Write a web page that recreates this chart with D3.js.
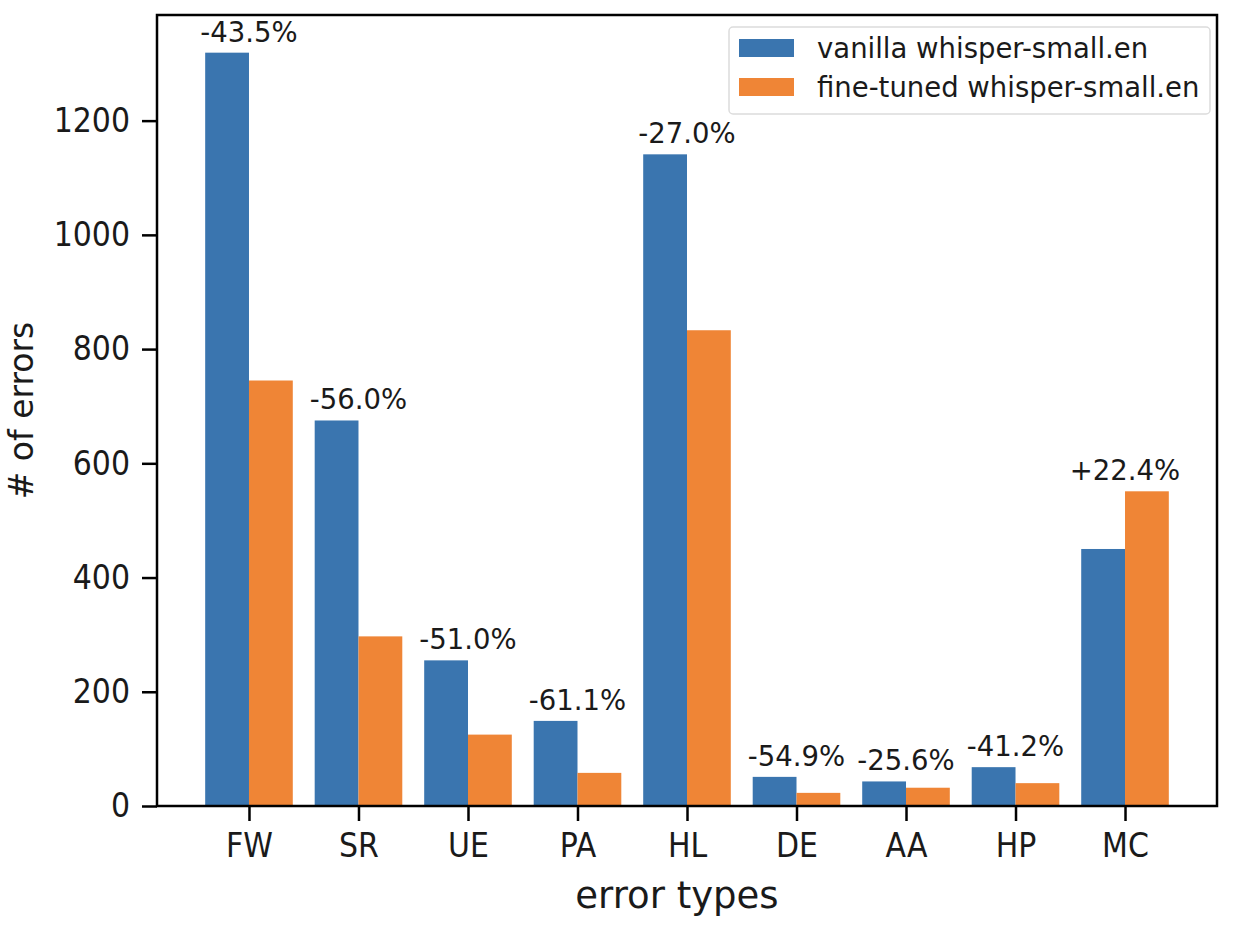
<!doctype html>
<html lang="en">
  <head>
    <meta charset="utf-8">
    <title>error types</title>
    <style>
      body { margin: 0; background: #fff; }
      text { font-family: "DejaVu Sans", sans-serif; fill: #1a1a1a; }
    </style>
  </head>
  <body>
    <div id="my_dataviz"></div>
    <script src="https://d3js.org/d3.v7.min.js"></script>
    <script>
// data
var categories = ["FW", "SR", "UE", "PA", "HL", "DE", "AA", "HP", "MC"];
var vanilla   = [1319, 675, 255, 149, 1141, 51, 43, 68, 450];
var finetuned = [745, 297, 125, 58, 833, 23, 32, 40, 551];
var changeLabels = ["-43.5%", "-56.0%", "-51.0%", "-61.1%", "-27.0%", "-54.9%", "-25.6%", "-41.2%", "+22.4%"];
var yTicks = [0, 200, 400, 600, 800, 1000, 1200];
var seriesNames = ["vanilla whisper-small.en", "fine-tuned whisper-small.en"];
var colors = ["#3a75af", "#ef8536"];

var W = 1234, H = 934;
var margin = {top: 15, right: 17, bottom: 128, left: 157};
var barW = 0.4;

var svg = d3.select("#my_dataviz")
  .append("svg")
    .attr("width", W)
    .attr("height", H);

// x is a linear scale over category index, like matplotlib does it
var x = d3.scaleLinear()
  .domain([-0.84, categories.length - 1 + 0.84])
  .range([margin.left, W - margin.right]);

var ymax = d3.max(vanilla.concat(finetuned)) * 1.05;
var y = d3.scaleLinear()
  .domain([0, ymax])
  .range([H - margin.bottom, margin.top]);

// bars: vanilla left of the tick, fine-tuned right of it
svg.append("g").selectAll("rect")
  .data(vanilla)
  .enter()
  .append("rect")
    .attr("x", function(d, i){ return x(i - barW); })
    .attr("y", function(d){ return y(d); })
    .attr("width", function(d, i){ return x(i) - x(i - barW); })
    .attr("height", function(d){ return y(0) - y(d); })
    .attr("fill", colors[0]);

svg.append("g").selectAll("rect")
  .data(finetuned)
  .enter()
  .append("rect")
    .attr("x", function(d, i){ return x(i); })
    .attr("y", function(d){ return y(d); })
    .attr("width", function(d, i){ return x(i + barW) - x(i); })
    .attr("height", function(d){ return y(0) - y(d); })
    .attr("fill", colors[1]);

// percent change above the taller bar
svg.append("g").selectAll("text")
  .data(changeLabels)
  .enter()
  .append("text")
    .attr("x", function(d, i){ return x(i); })
    .attr("y", function(d, i){ return y(Math.max(vanilla[i], finetuned[i])) - 11; })
    .attr("text-anchor", "middle")
    .attr("font-size", "27.5px")
    .text(function(d){ return d; });

// axes
var xAxis = d3.axisBottom(x)
  .tickValues(d3.range(categories.length))
  .tickFormat(function(d){ return categories[d]; })
  .tickSize(15)
  .tickPadding(9);

var yAxis = d3.axisLeft(y)
  .tickValues(yTicks)
  .tickFormat(d3.format("d"))
  .tickSize(15)
  .tickPadding(12);

var gx = svg.append("g")
  .attr("transform", "translate(0," + (H - margin.bottom) + ")")
  .call(xAxis);
var gy = svg.append("g")
  .attr("transform", "translate(" + margin.left + ",0)")
  .call(yAxis);

[gx, gy].forEach(function(g){
  g.select(".domain").remove();
  g.selectAll(".tick line").attr("stroke", "#000").attr("stroke-width", 2.5);
  // tick labels in the original are a bit taller than wide
  g.selectAll(".tick text")
    .attr("font-size", "30px")
    .attr("font-family", "DejaVu Sans")
    .attr("fill", "#1a1a1a")
    .attr("transform", "scale(1,1.13)");
});

// frame round the plot
svg.append("rect")
  .attr("x", margin.left)
  .attr("y", margin.top)
  .attr("width", W - margin.right - margin.left)
  .attr("height", H - margin.bottom - margin.top)
  .attr("fill", "none")
  .attr("stroke", "#000")
  .attr("stroke-width", 2.5);

// axis titles
svg.append("text")
  .attr("x", (margin.left + W - margin.right) / 2 - 10)
  .attr("y", 908)
  .attr("text-anchor", "middle")
  .attr("font-size", "37px")
  .text("error types");

svg.append("text")
  .attr("transform", "translate(33," + ((margin.top + H - margin.bottom) / 2) + ") rotate(-90)")
  .attr("text-anchor", "middle")
  .attr("font-size", "33px")
  .text("# of errors");

// legend
var legend = svg.append("g").attr("transform", "translate(729,27)");
legend.append("rect")
  .attr("width", 481)
  .attr("height", 87)
  .attr("rx", 4)
  .attr("fill", "#fff")
  .attr("fill-opacity", 0.8)
  .attr("stroke", "#dcdcdc")
  .attr("stroke-width", 1.5);

var items = legend.selectAll("g.item")
  .data(seriesNames)
  .enter()
  .append("g")
    .attr("class", "item")
    .attr("transform", function(d, i){ return "translate(10," + (12 + i * 39) + ")"; });

items.append("rect")
  .attr("width", 55)
  .attr("height", 18)
  .attr("fill", function(d, i){ return colors[i]; });

items.append("text")
  .attr("x", 78)
  .attr("y", 19)
  .attr("font-size", "27.5px")
  .text(function(d){ return d; });
    </script>
  </body>
</html>
